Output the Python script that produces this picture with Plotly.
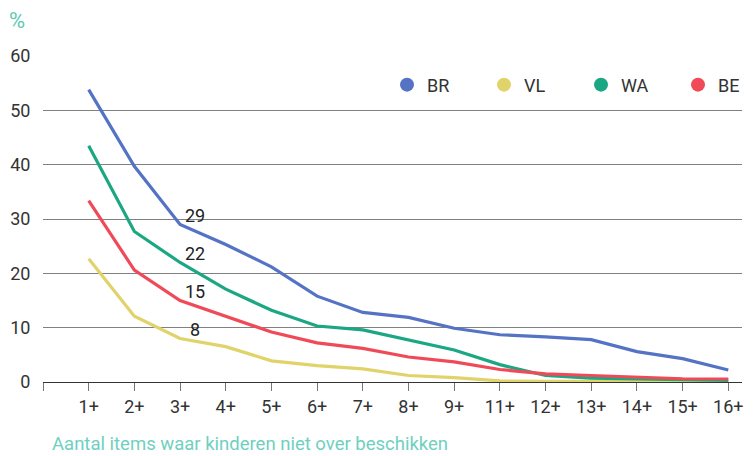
import plotly.graph_objects as go

categories = ["1+", "2+", "3+", "4+", "5+", "6+", "7+", "8+", "9+", "11+", "12+", "13+", "14+", "15+", "16+"]
BR = [53.8, 39.7, 29, 25.3, 21.2, 15.8, 12.8, 11.9, 9.9, 8.7, 8.3, 7.8, 5.6, 4.3, 2.2]
VL = [22.7, 12.1, 8, 6.5, 3.9, 3.0, 2.4, 1.2, 0.8, 0.2, 0.1, 0.1, 0.1, 0.1, 0.1]
WA = [43.5, 27.7, 22, 17.1, 13.2, 10.3, 9.6, 7.8, 5.9, 3.2, 1.2, 0.7, 0.6, 0.4, 0.3]
BE = [33.4, 20.6, 15, 12.1, 9.2, 7.2, 6.2, 4.6, 3.7, 2.3, 1.5, 1.2, 0.9, 0.6, 0.55]
series_names = ["BR", "VL", "WA", "BE"]
series_values = [BR, VL, WA, BE]
colors = ["#5473c4", "#e0d36a", "#1ba784", "#f04a58"]
y_ticks = [0, 10, 20, 30, 40, 50, 60]
label_index = 2

x_idx = list(range(len(categories)))
fig = go.Figure()

for name, vals, col in zip(series_names, series_values, colors):
    fig.add_trace(go.Scatter(x=x_idx, y=vals, mode="lines", name=name,
                             line=dict(color=col, width=3.2), showlegend=False,
                             hoverinfo="skip"))
for name, col in zip(series_names, colors):
    fig.add_trace(go.Scatter(x=[None], y=[None], mode="markers", name=name,
                             marker=dict(color=col, size=14), showlegend=True))

for vals in [BR, WA, BE, VL]:
    fig.add_annotation(x=label_index, y=vals[label_index], text=str(vals[label_index]),
                       showarrow=False, xanchor="center", yanchor="middle",
                       xshift=15, yshift=9,
                       font=dict(family="Roboto", size=18, color="#222"))

fig.add_annotation(xref="paper", yref="paper", x=(17 - 43) / 699, y=(382.5 - 20) / 326.5,
                   text="%",
                   showarrow=False, xanchor="center", yanchor="middle",
                   font=dict(family="Roboto", size=22, color="#5ec9b5"))
fig.add_annotation(xref="paper", yref="paper", x=(50 - 43) / 699, y=-(445 - 382.5) / 326.5,
                   text="Aantal items waar kinderen niet over beschikken",
                   showarrow=False, xanchor="left", yanchor="middle",
                   font=dict(family="Roboto", size=18.5, color="#6fd0c0"))

fig.update_layout(
    width=755, height=456,
    margin=dict(l=43, r=13, t=56, b=73.5, autoexpand=False),
    paper_bgcolor="white", plot_bgcolor="white",
    font=dict(family="Roboto", size=18, color="#333"),
    showlegend=True,
    legend=dict(orientation="h", x=(387 - 43) / 699, xanchor="left",
                y=(382.5 - 85) / 326.5, yanchor="middle",
                entrywidth=52, entrywidthmode="pixels",
                font=dict(family="Roboto", size=18, color="#333"),
                bgcolor="rgba(0,0,0,0)"),
    xaxis=dict(range=[-1, 14.3],
               tickmode="array",
               tickvals=[-1] + x_idx, ticktext=[""] + categories,
               ticks="outside", ticklen=8, tickcolor="#777", tickwidth=1,
               showgrid=False, zeroline=False,
               showline=True, linecolor="#333", linewidth=1,
               tickfont=dict(family="Roboto", size=18, color="#333")),
    yaxis=dict(range=[0, 60], tickmode="array", tickvals=y_ticks,
               showgrid=True, gridcolor="#808080", gridwidth=1,
               zeroline=False, showline=False,
               ticks="outside", ticklen=8, tickcolor="rgba(0,0,0,0)",
               tickfont=dict(family="Roboto", size=18, color="#333")),
)

fig.write_html("out.html", config={"displayModeBar": False},
               post_script="document.body.style.margin='0';document.body.style.padding='0';")
